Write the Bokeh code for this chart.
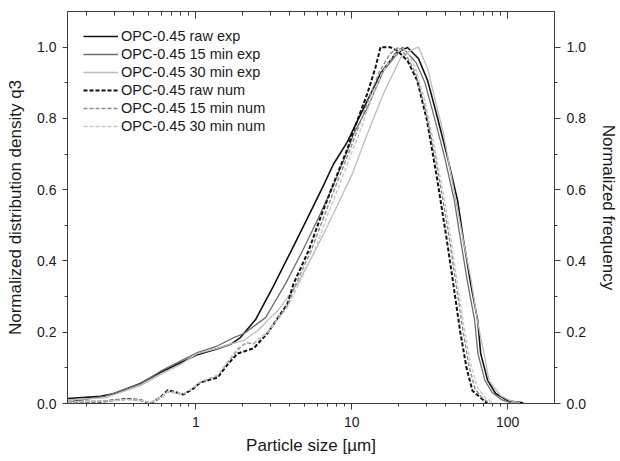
from bokeh.plotting import figure
from bokeh.models import (Range1d, LinearAxis, LogAxis, FixedTicker, NumeralTickFormatter,
                          Legend, LegendItem, ColumnDataSource)
from bokeh.embed import file_html
from bokeh.resources import INLINE

# ---------------- data ----------------
raw_exp_x = [0.15, 0.244, 0.3, 0.44, 0.59, 0.8, 1.02, 1.38, 1.67, 1.93, 2.41, 3.15, 4.05, 5.2,
             6.59, 7.64, 9.4, 10.3, 12.6, 15.3, 19.1, 22.8, 26.8, 30.7, 35.5, 41.2, 47.8, 52.2,
             57.9, 64.3, 67.2, 74.5, 83.8, 100, 126]
raw_exp_y = [0.014, 0.02, 0.028, 0.056, 0.087, 0.115, 0.137, 0.154, 0.166, 0.185, 0.235, 0.33,
             0.425, 0.52, 0.612, 0.672, 0.735, 0.772, 0.85, 0.926, 0.982, 0.999, 0.968, 0.906,
             0.802, 0.69, 0.569, 0.457, 0.337, 0.233, 0.14, 0.065, 0.028, 0.008, 0.002]

exp15_x = [0.15, 0.26, 0.44, 0.59, 0.8, 1.02, 1.38, 1.75, 2.03, 2.8, 3.77, 4.85, 6.1, 7.7, 9.4,
           10.3, 12.6, 16.0, 19.5, 21.2, 23.7, 26.0, 29.5, 34.0, 39.5, 45.5, 50.0, 55.5, 61.5,
           64.5, 71.5, 80.0, 92.0, 105, 120]
exp15_y = [0.004, 0.02, 0.055, 0.09, 0.12, 0.143, 0.162, 0.185, 0.196, 0.241, 0.337, 0.43, 0.52,
           0.617, 0.71, 0.757, 0.83, 0.934, 0.98, 1.0, 0.975, 0.955, 0.9, 0.8, 0.69, 0.57,
           0.457, 0.337, 0.233, 0.14, 0.065, 0.03, 0.01, 0.002, 0.0]

exp30_x = [0.15, 0.26, 0.44, 0.59, 0.8, 1.02, 1.38, 1.7, 2.03, 2.5, 3.0, 3.35, 4.5, 5.85, 7.64,
           10.1, 12.6, 16.0, 20.6, 23.7, 26.8, 30.7, 33.5, 38.8, 44.9, 52.0, 58.0, 64.0, 70.6,
           76.0, 90.0, 104, 120]
exp30_y = [0.01, 0.016, 0.05, 0.081, 0.11, 0.14, 0.155, 0.168, 0.177, 0.205, 0.241, 0.26, 0.337,
           0.43, 0.533, 0.645, 0.757, 0.87, 0.97, 0.99, 1.0, 0.94, 0.87, 0.757, 0.606, 0.457,
           0.353, 0.233, 0.14, 0.065, 0.022, 0.008, 0.002]

raw_num_x = [0.15, 0.244, 0.36, 0.44, 0.51, 0.59, 0.66, 0.74, 0.83, 0.95, 1.07, 1.38, 1.6, 1.85,
             2.35, 2.88, 3.87, 4.24, 5.3, 6.3, 7.64, 9.3, 10.1, 12.6, 14.2, 15.3, 17.6, 19.6,
             22.8, 26.3, 30.4, 35.2, 40.8, 44.8, 49.5, 54.5, 59.5, 68.0, 74.0]
raw_num_y = [0.005, 0.005, 0.013, 0.01, 0.0, 0.017, 0.037, 0.032, 0.025, 0.04, 0.059, 0.073,
             0.11, 0.14, 0.155, 0.197, 0.28, 0.337, 0.43, 0.522, 0.617, 0.71, 0.757, 0.87,
             0.943, 1.0, 1.0, 0.99, 0.962, 0.906, 0.794, 0.634, 0.457, 0.337, 0.205, 0.1,
             0.036, 0.014, 0.0]

num15_x = [0.15, 0.244, 0.36, 0.44, 0.51, 0.59, 0.66, 0.74, 0.83, 0.95, 1.07, 1.38, 1.6, 1.85,
           2.1, 2.35, 2.88, 3.87, 4.4, 5.5, 6.6, 8.0, 9.7, 10.5, 13.0, 15.0, 17.5, 20.0, 22.5,
           25.5, 29.5, 34.0, 38.5, 42.5, 46.5, 51.5, 56.5, 62.0, 70.0, 78.0]
num15_y = [0.005, 0.006, 0.012, 0.01, 0.002, 0.015, 0.033, 0.03, 0.026, 0.042, 0.06, 0.078,
           0.115, 0.15, 0.17, 0.168, 0.2, 0.275, 0.337, 0.43, 0.522, 0.617, 0.71, 0.75, 0.86,
           0.93, 0.98, 1.0, 0.975, 0.93, 0.83, 0.7, 0.57, 0.457, 0.34, 0.21, 0.105, 0.04,
           0.012, 0.0]

num30_x = [0.15, 0.244, 0.36, 0.44, 0.51, 0.59, 0.66, 0.74, 0.83, 0.95, 1.07, 1.38, 1.6, 1.85,
           2.1, 2.35, 2.88, 3.87, 4.6, 5.8, 6.9, 8.4, 10.1, 11.0, 13.5, 15.5, 18.0, 21.0, 22.5,
           25.5, 29.5, 34.0, 39.0, 43.5, 47.5, 52.5, 58.0, 64.0, 73.0, 83.0]
num30_y = [0.004, 0.006, 0.011, 0.009, 0.002, 0.016, 0.034, 0.031, 0.027, 0.043, 0.062, 0.08,
           0.118, 0.155, 0.172, 0.17, 0.198, 0.27, 0.337, 0.43, 0.522, 0.617, 0.71, 0.75, 0.86,
           0.925, 0.97, 0.995, 0.99, 0.945, 0.85, 0.72, 0.58, 0.457, 0.34, 0.215, 0.11, 0.045,
           0.013, 0.0]

labels = ["OPC-0.45 raw exp", "OPC-0.45 15 min exp", "OPC-0.45 30 min exp",
          "OPC-0.45 raw num", "OPC-0.45 15 min num", "OPC-0.45 30 min num"]

x_major = [1, 10, 100]
x_minor = [0.2, 0.3, 0.4, 0.5, 0.6, 0.7, 0.8, 0.9, 2, 3, 4, 5, 6, 7, 8, 9,
           20, 30, 40, 50, 60, 70, 80, 90]
y_major = [0.0, 0.2, 0.4, 0.6, 0.8, 1.0]
y_minor = [0.1, 0.3, 0.5, 0.7, 0.9]

# ---------------- figure ----------------
FONT = "Liberation Sans"
AX = "#3c3c3c"

p = figure(width=620, height=461, x_axis_type="log",
           x_range=Range1d(0.15, 200), y_range=Range1d(0, 1.1),
           output_backend="svg", toolbar_location=None,
           min_border_left=67, min_border_right=66, min_border_top=11, min_border_bottom=58,
           background_fill_color="white", border_fill_color="white")
p.xgrid.visible = False
p.ygrid.visible = False
p.outline_line_color = AX


def style(ax, label=None, size="14px"):
    ax.axis_line_color = AX
    ax.major_tick_line_color = AX
    ax.minor_tick_line_color = AX
    ax.major_label_text_font = FONT
    ax.major_label_text_font_size = size
    ax.major_label_text_color = "#1a1a1a"
    ax.axis_label_text_font = FONT
    ax.axis_label_text_font_size = "17px"
    ax.axis_label_text_font_style = "normal"
    ax.axis_label_text_color = "#1a1a1a"
    if label is not None:
        ax.axis_label = label


xb = p.xaxis[0]
xb.ticker = FixedTicker(ticks=x_major, minor_ticks=x_minor)
xb.formatter = NumeralTickFormatter(format="0")
style(xb, "Particle size [µm]")
xb.major_tick_out = 6
xb.major_tick_in = 0
xb.minor_tick_out = 3
xb.minor_tick_in = 0
xb.major_label_standoff = 7
xb.axis_label_standoff = 6

yl = p.yaxis[0]
yl.ticker = FixedTicker(ticks=y_major, minor_ticks=y_minor)
yl.formatter = NumeralTickFormatter(format="0.0")
style(yl, "Normalized distribution density q3")
yl.major_tick_out = 5
yl.major_tick_in = 0
yl.minor_tick_out = 3
yl.minor_tick_in = 0
yl.major_label_standoff = 6
yl.axis_label_standoff = 9

yr = LinearAxis(ticker=FixedTicker(ticks=y_major, minor_ticks=y_minor),
                formatter=NumeralTickFormatter(format="0.0"))
style(yr, "Normalized frequency")
yr.major_tick_out = 6
yr.major_tick_in = 0
yr.minor_tick_out = 3
yr.minor_tick_in = 0
yr.major_label_standoff = 6
yr.axis_label_standoff = 10
p.add_layout(yr, "right")

xt = LogAxis(ticker=FixedTicker(ticks=x_major, minor_ticks=x_minor))
style(xt, None, size="1px")
xt.major_label_text_alpha = 0
xt.major_tick_out = 0
xt.major_tick_in = 7
xt.minor_tick_out = 0
xt.minor_tick_in = 4
xt.major_label_standoff = 0
p.add_layout(xt, "above")

# ---------------- lines ----------------
series = [
    (raw_exp_x, raw_exp_y, "#111111", 1.6, "solid"),
    (exp15_x, exp15_y, "#6e6e6e", 1.3, "solid"),
    (exp30_x, exp30_y, "#bcbcbc", 1.3, "solid"),
    (raw_num_x, raw_num_y, "#111111", 2.0, "4 2"),
    (num15_x, num15_y, "#8c8c8c", 1.4, "4 2"),
    (num30_x, num30_y, "#c8c8c8", 1.4, "4 2"),
]
items = []
for (xs, ys, col, lw, dash), lab in zip(series, labels):
    src = ColumnDataSource(data=dict(x=xs, y=ys))
    r = p.line("x", "y", source=src, line_color=col, line_width=lw, line_dash=dash)
    items.append(LegendItem(label=lab, renderers=[r]))

legend = Legend(items=items, location="top_left", border_line_color=None,
                background_fill_alpha=0, padding=0, margin=16, spacing=0,
                glyph_height=18, glyph_width=35, label_height=18, label_standoff=3,
                label_text_font=FONT, label_text_font_size="14.5px",
                label_text_color="#1a1a1a")
p.add_layout(legend)

open("out.html", "w").write(file_html(p, INLINE))
